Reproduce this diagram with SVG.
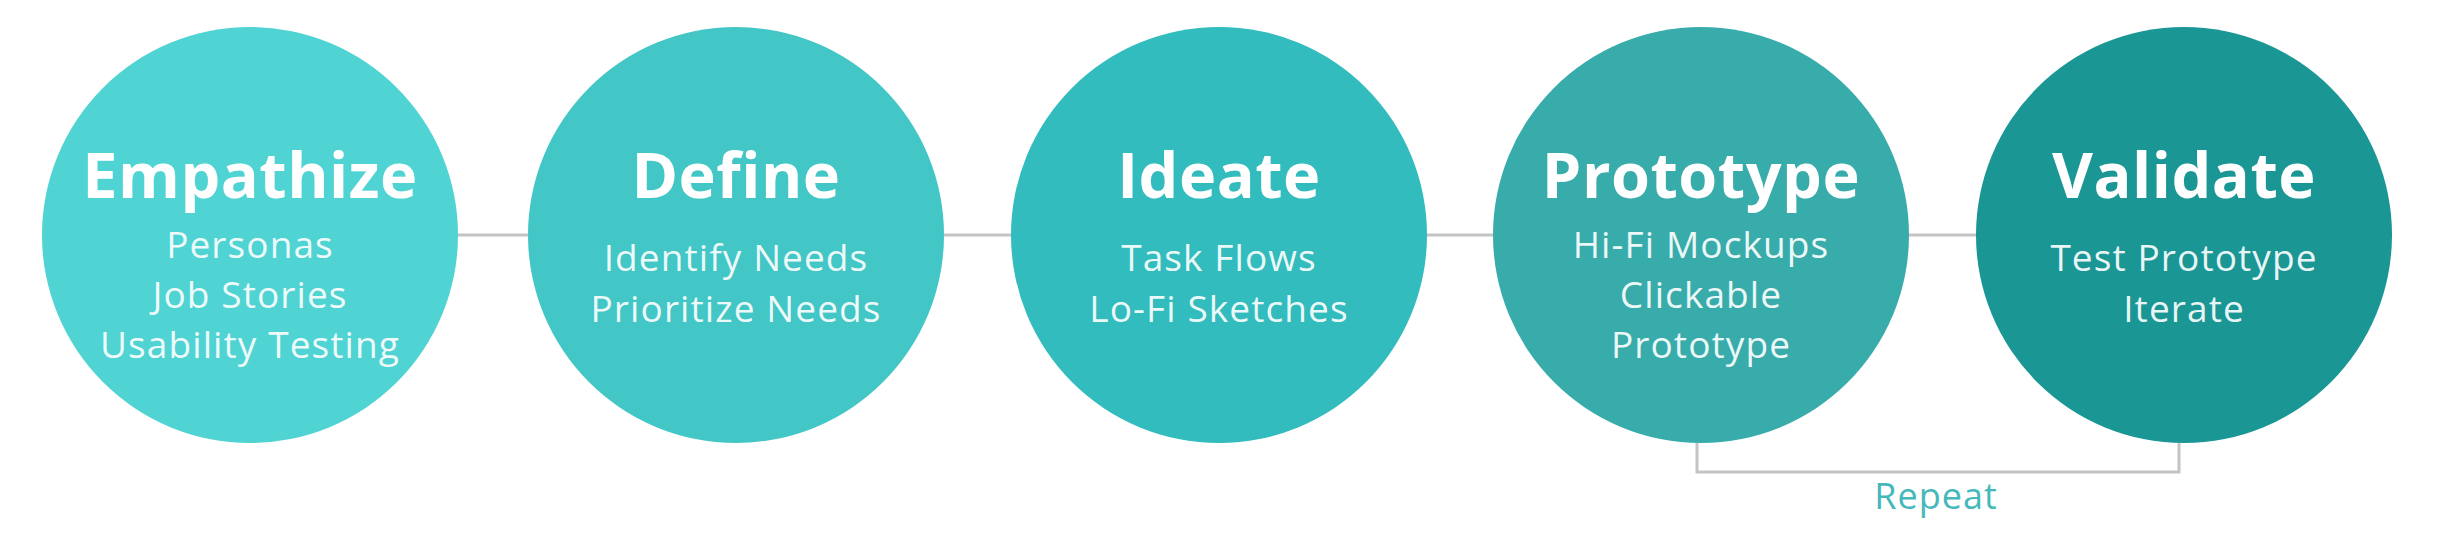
<svg xmlns="http://www.w3.org/2000/svg" width="2438" height="538" viewBox="0 0 2438 538">
<style>
.title{font-family:"Open Sans","Noto Sans",sans-serif;font-weight:700;font-size:63px;fill:#ffffff;text-anchor:middle;letter-spacing:0.5px}
.sub{font-family:"Open Sans","Noto Sans",sans-serif;font-weight:400;font-size:37px;fill:#ffffff;fill-opacity:0.92;text-anchor:middle;letter-spacing:1.1px}
.conn{stroke:#c4c4c4;stroke-width:3;fill:none}
.rep{font-family:"Open Sans","Noto Sans",sans-serif;font-size:36px;fill:#45b8bb;text-anchor:middle;letter-spacing:1px}
</style>
<rect width="2438" height="538" fill="#ffffff"/>
<g id="connectors">
<line class="conn" x1="450" y1="235" x2="1990" y2="235"/>
<polyline class="conn" points="1697,443 1697,472 2179,472 2179,443"/>
<text class="rep" x="1936" y="509">Repeat</text>
</g>
<g id="empathize">
<circle cx="250" cy="235" r="208" fill="#50d3d3"/>
<text class="title" x="250" y="198">Empathize</text>
<text class="sub" x="250" y="258">Personas</text>
<text class="sub" x="250" y="308">Job Stories</text>
<text class="sub" x="250" y="358">Usability Testing</text>
</g>
<g id="define">
<circle cx="736" cy="235" r="208" fill="#42c6c6"/>
<text class="title" x="736" y="198">Define</text>
<text class="sub" x="736" y="271">Identify Needs</text>
<text class="sub" x="736" y="322">Prioritize Needs</text>
</g>
<g id="ideate">
<circle cx="1219" cy="235" r="208" fill="#32bcbd"/>
<text class="title" x="1219" y="198">Ideate</text>
<text class="sub" x="1219" y="271">Task Flows</text>
<text class="sub" x="1219" y="322">Lo-Fi Sketches</text>
</g>
<g id="prototype">
<circle cx="1701" cy="235" r="208" fill="#38acab"/>
<text class="title" x="1701" y="198">Prototype</text>
<text class="sub" x="1701" y="258">Hi-Fi Mockups</text>
<text class="sub" x="1701" y="308">Clickable</text>
<text class="sub" x="1701" y="358">Prototype</text>
</g>
<g id="validate">
<circle cx="2184" cy="235" r="208" fill="#1a9695"/>
<text class="title" x="2184" y="198">Validate</text>
<text class="sub" x="2184" y="271">Test Prototype</text>
<text class="sub" x="2184" y="322">Iterate</text>
</g>
</svg>
